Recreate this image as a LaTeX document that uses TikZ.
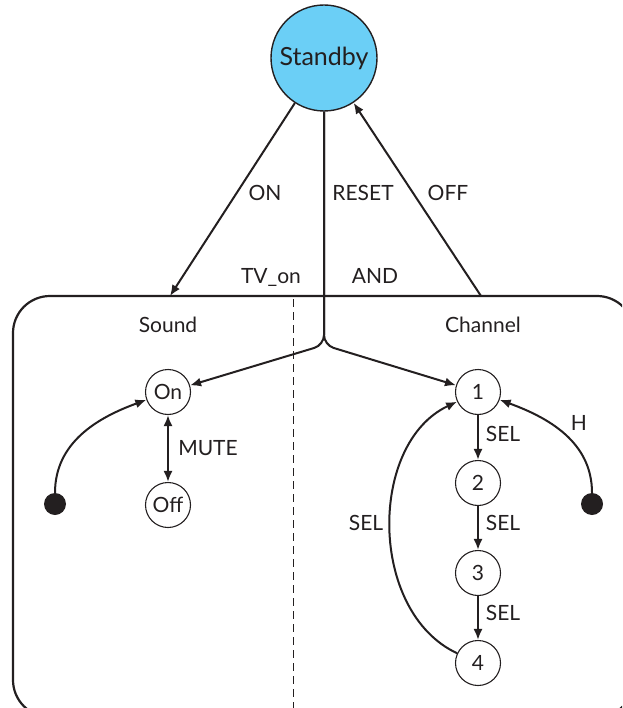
\documentclass[tikz,border=0pt]{standalone}
\usepackage{fontspec}
\setmainfont{Lato}
\usetikzlibrary{arrows.meta}
\definecolor{standbyblue}{HTML}{6BCFF6}
\definecolor{ink}{HTML}{231F20}

\begin{document}
\begin{tikzpicture}[
  x=1pt, y=-1pt, ink,
  >={Latex[length=11pt,width=9pt]},
  arr/.style={line width=2pt, ->},
  smallstate/.style={circle, draw, line width=1.1pt, minimum size=45pt,
    inner sep=0pt, font=\fontsize{21}{24}\selectfont},
  bigstate/.style={circle, draw, line width=1.4pt, fill=standbyblue,
    minimum size=106pt, inner sep=0pt, font=\fontsize{25}{30}\selectfont},
  startdot/.style={circle, fill, minimum size=22pt, inner sep=0pt},
  lbl/.style={font=\fontsize{21}{24}\selectfont, inner sep=0pt, anchor=base},
]
  \useasboundingbox (0,0) rectangle (622,708);
  \clip (0,0) rectangle (622,708);

  % 状态
  \node[bigstate]   (standby) at (324,58)  {Standby};
  \node[smallstate] (on)      at (168,392) {On};
  \node[smallstate] (off)     at (168,505) {Off};
  \node[smallstate] (c1)      at (478,392) {1};
  \node[smallstate] (c2)      at (478,483) {2};
  \node[smallstate] (c3)      at (478,573) {3};
  \node[smallstate] (c4)      at (478,663) {4};
  \node[startdot]   (initL)   at (55,504)  {};
  \node[startdot]   (initR)   at (592,504) {};

  \coordinate (onend)    at (170,296);
  \coordinate (offstart) at (481,296);
  \coordinate (fork)     at (324,345);

  % 外框 TV_on，虚线分成两个并行区域
  \draw[line width=2.2pt, rounded corners=37pt] (13,296) rectangle (634,717);
  \draw[line width=1pt, dash pattern=on 8pt off 5pt] (293,299) -- (293,717);

  % Standby 的进出
  \draw[arr] (standby) -- (onend);
  \draw[arr] (offstart) -- (standby);
  \draw[arr, rounded corners=10pt] (standby) -- (fork) -- (on);
  \draw[arr, rounded corners=10pt] (standby) -- (fork) -- (c1);

  % Sound 区域
  \draw[arr] (initL) to[out=90, in=200] (on);
  \draw[arr, <->] (on) -- (off);

  % Channel 区域
  \draw[arr] (c1) -- (c2);
  \draw[arr] (c2) -- (c3);
  \draw[arr] (c3) -- (c4);
  \draw[arr] (c4) to[out=155, in=205] (c1);
  \draw[arr] (initR) to[out=90, in=340] (c1);

  % 文字
  \node[lbl] (lon)      at (265,200.5) {ON};
  \node[lbl] (lreset)   at (363,200.5) {RESET};
  \node[lbl] (loff)     at (448,200.5) {OFF};
  \node[lbl] (ltvon)    at (271,283.5) {TV\_on};
  \node[lbl] (land)     at (375,283.5) {AND};
  \node[lbl] (lsound)   at (168,332)   {Sound};
  \node[lbl] (lchannel) at (483,332)   {Channel};
  \node[lbl] (lmute)    at (208,455.5) {MUTE};
  \node[lbl] (lsela)    at (503,441.5) {SEL};
  \node[lbl] (lselb)    at (503,530.5) {SEL};
  \node[lbl] (lselc)    at (503,620.5) {SEL};
  \node[lbl] (lselback) at (366,530.5) {SEL};
  \node[lbl] (lh)       at (579,430.5) {H};
\end{tikzpicture}
\end{document}
